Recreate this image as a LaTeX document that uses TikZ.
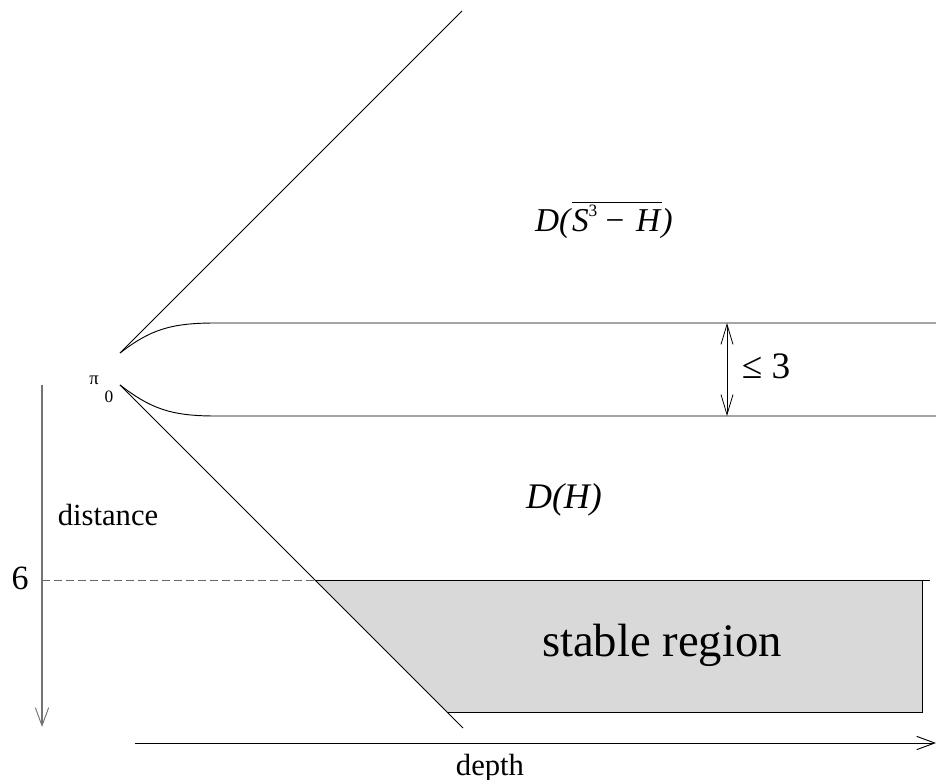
\documentclass[tikz,border=0pt]{standalone}
\usepackage{fontspec}
\setmainfont{Liberation Serif}
\usetikzlibrary{arrows.meta}
\tikzset{
  mybarb/.tip={Straight Barb[length=15pt,width=9pt,line width=0.6pt]},
  axbarb/.tip={Straight Barb[length=13.5pt,width=10pt,line width=0.7pt]}}
\begin{document}
\begin{tikzpicture}[x=0.75pt,y=-0.75pt, line width=0.7pt,
  lbl/.style={inner sep=0pt, anchor=center},
  fs/.style={font=\fontsize{#1}{#1}\selectfont}]
\useasboundingbox (0,0) rectangle (936,780);
% key points
\coordinate (P1) at (120,353);
\coordinate (P2) at (120,385);
\coordinate (Ttop) at (462,11);
\coordinate (Bend) at (463,728);
\coordinate (Q) at (315,580);
\coordinate (BR) at (922,712);
\coordinate (BL) at (447,712);
\coordinate (TR) at (922,580);
% stable region fill
\fill[black!15] (Q) -- (TR) -- (BR) -- (BL) -- cycle;
% diagonals
\draw (P1) -- (Ttop);
\draw (P2) -- (Bend);
% curves
\draw (P1) .. controls (150,330) and (170,323) .. (215,323) -- (936,323);
\draw (P2) .. controls (150,408) and (170,416) .. (215,416) -- (936,416);
% stable region outline
\draw (Q) -- (930,580);
\draw (TR) -- (BR) -- (BL);
% dashed level line
\draw[black!60, dash pattern=on 6pt off 3pt] (42,580) -- (Q);
% axes
\draw[black!55, line width=1.1pt, -{axbarb}] (42,385) -- (42,727);
\draw[-{axbarb}] (135,743) -- (936,743);
% width arrow
\draw[{mybarb}-{mybarb}] (727,323) -- (727,416);
% labels
\node[lbl, fs=14] (pi) at (94,380) {π};
\node[lbl, fs=13] (zero) at (109,397) {0};
\node[lbl, fs=23] (dist) at (108,515) {distance};
\node[lbl, fs=23] (depth) at (490,768) {depth};
\node[lbl, fs=25.5] (six) at (20,578) {6};
\node[lbl, fs=28] (le) at (766,366) {≤ 3};
\node[lbl, fs=25] (DSH) at (604,220) {\textit{D(}$\overline{\hbox{\textit{S}\raisebox{0.45em}{\fontsize{13}{13}\selectfont 3} −\hspace{0.35em}\textit{H}}}$\textit{)}};
\node[lbl, fs=27] (DH) at (564,500) {\textit{D(H)}};
\node[lbl, fs=35] (stable) at (662,645) {stable region};
\end{tikzpicture}
\end{document}
